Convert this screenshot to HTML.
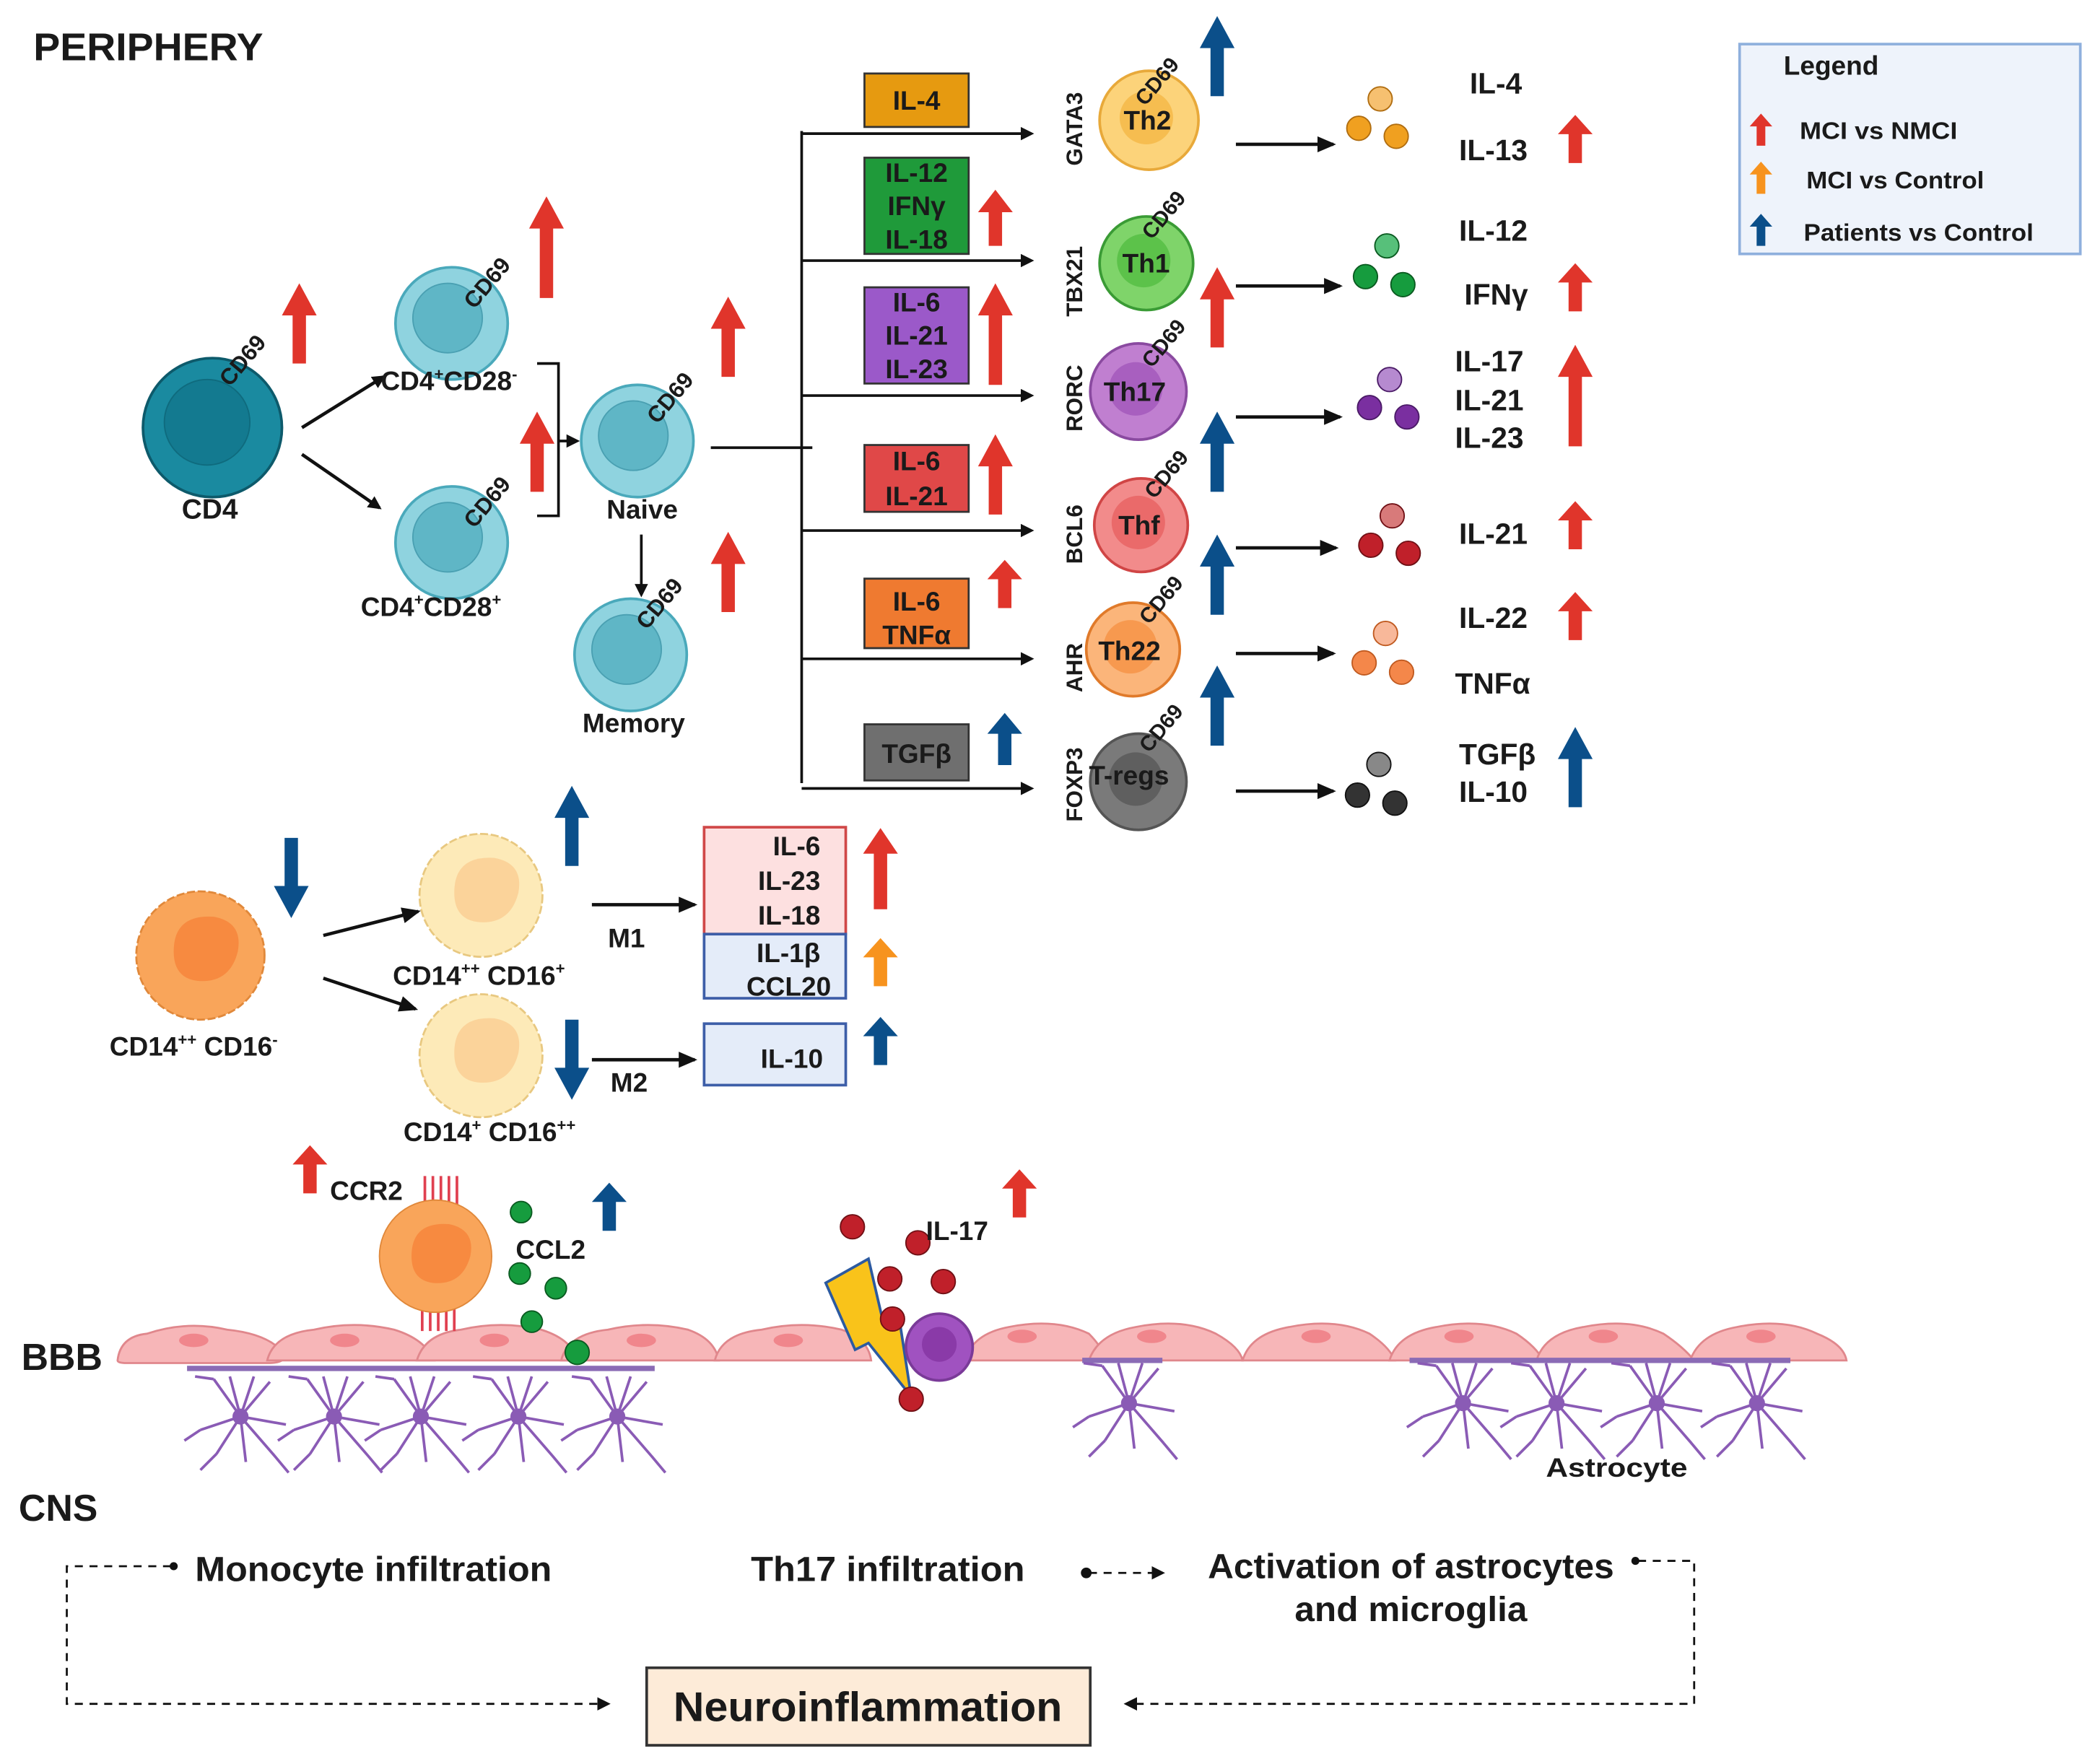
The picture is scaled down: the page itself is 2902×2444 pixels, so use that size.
<!DOCTYPE html>
<html><head><meta charset="utf-8"><style>
html,body{margin:0;padding:0;background:#fff}
svg{display:block}
text{font-family:"Liberation Sans",sans-serif;font-weight:bold;fill:#1a1a1a}
</style></head><body>
<svg width="2902" height="2444" viewBox="0 0 1568 1320" preserveAspectRatio="none" xmlns="http://www.w3.org/2000/svg">
<defs>
<path id="up" d="M0,-30 L13,-6 L5,-6 L5,30 L-5,30 L-5,-6 L-13,-6 Z"/>
<path id="upT" d="M0,-38 L13,-14 L5,-14 L5,38 L-5,38 L-5,-14 L-13,-14 Z"/>
<path id="dn" d="M0,30 L13,6 L5,6 L5,-30 L-5,-30 L-5,6 L-13,6 Z"/>
<marker id="ah" markerWidth="10" markerHeight="10" refX="8" refY="5" orient="auto" markerUnits="userSpaceOnUse"><path d="M0,0 L10,5 L0,10 Z" fill="#111"/></marker>
<marker id="ah2" markerWidth="14" markerHeight="12" refX="12" refY="6" orient="auto" markerUnits="userSpaceOnUse"><path d="M0,0 L14,6 L0,12 Z" fill="#111"/></marker>
<g id="cellT"><circle r="42" fill="#8fd3df" stroke="#4aa9bb" stroke-width="2"/><circle cx="-3" cy="-4" r="26" fill="#5fb6c6" stroke="#4aa0b2"/></g>
<g id="astro" stroke="#8a5bb5" stroke-width="2" fill="none"><path d="M0,0 L-20,-28 M0,0 L-8,-30 M0,0 L10,-30 M0,0 L22,-26 M0,0 L-30,10 M-30,10 L-42,18 M0,0 L-18,28 M-18,28 L-30,40 M0,0 L4,34 M0,0 L26,30 M26,30 L36,42 M0,0 L34,6 M-20,-28 L-34,-30"/><circle r="5" fill="#8a5bb5"/></g>
</defs>

<text x="25" y="45" font-size="29" textLength="172" lengthAdjust="spacingAndGlyphs">PERIPHERY</text>

<!-- legend -->
<rect x="1302" y="33" width="255" height="157" fill="#eef3fb" stroke="#8fb0dd" stroke-width="2"/>
<text x="1335" y="56" font-size="20">Legend</text>
<use href="#up" transform="translate(1318,97) scale(0.65,0.4)" fill="#e0352b"/>
<text x="1347" y="104" font-size="18" textLength="118" lengthAdjust="spacingAndGlyphs">MCI vs NMCI</text>
<use href="#up" transform="translate(1318,133) scale(0.65,0.4)" fill="#f7931e"/>
<text x="1352" y="141" font-size="18" textLength="133" lengthAdjust="spacingAndGlyphs">MCI vs Control</text>
<use href="#up" transform="translate(1318,172) scale(0.65,0.4)" fill="#0b4f8a"/>
<text x="1350" y="180" font-size="18" textLength="172" lengthAdjust="spacingAndGlyphs">Patients vs Control</text>

<!-- CD4 -->
<circle cx="159" cy="320" r="52" fill="#1a8aa0" stroke="#0d5a6b" stroke-width="2"/>
<circle cx="155" cy="316" r="32" fill="#137a90" stroke="#0f6b7e"/>
<text x="136" y="388" font-size="21">CD4</text>
<text font-size="17" transform="translate(172,290) rotate(-50)">CD69</text>
<use href="#up" transform="translate(224,242)" fill="#e0352b"/>
<line x1="226" y1="320" x2="287" y2="282" stroke="#111" stroke-width="2.5" marker-end="url(#ah)"/>
<line x1="226" y1="340" x2="284" y2="380" stroke="#111" stroke-width="2.5" marker-end="url(#ah)"/>

<use href="#cellT" transform="translate(338,242)"/>
<text font-size="17" transform="translate(355,232) rotate(-50)">CD69</text>
<text x="285" y="292" font-size="20">CD4<tspan font-size="12" dy="-8">+</tspan><tspan dy="8">CD28</tspan><tspan font-size="12" dy="-8">-</tspan></text>
<use href="#cellT" transform="translate(338,406)"/>
<text font-size="17" transform="translate(355,396) rotate(-50)">CD69</text>
<text x="270" y="461" font-size="20">CD4<tspan font-size="12" dy="-8">+</tspan><tspan dy="8">CD28</tspan><tspan font-size="12" dy="-8">+</tspan></text>
<use href="#upT" transform="translate(409,185)" fill="#e0352b"/>
<use href="#up" transform="translate(402,338)" fill="#e0352b"/>
<path d="M402,272 L418,272 L418,386 L402,386" fill="none" stroke="#111" stroke-width="2"/>
<line x1="418" y1="330" x2="432" y2="330" stroke="#111" stroke-width="2" marker-end="url(#ah)"/>

<use href="#cellT" transform="translate(477,330)"/>
<text font-size="17" transform="translate(492,318) rotate(-50)">CD69</text>
<text x="454" y="388" font-size="20">Naive</text>
<line x1="480" y1="400" x2="480" y2="445" stroke="#111" stroke-width="2" marker-end="url(#ah)"/>
<use href="#cellT" transform="translate(472,490)"/>
<text font-size="17" transform="translate(484,472) rotate(-50)">CD69</text>
<text x="436" y="548" font-size="20">Memory</text>
<use href="#up" transform="translate(545,252)" fill="#e0352b"/>
<use href="#up" transform="translate(545,428)" fill="#e0352b"/>

<line x1="532" y1="335" x2="608" y2="335" stroke="#111" stroke-width="2"/>
<line x1="600" y1="98" x2="600" y2="586" stroke="#111" stroke-width="2"/>
<g stroke="#111" stroke-width="2" marker-end="url(#ah)">
<line x1="600" y1="100" x2="772" y2="100"/><line x1="600" y1="195" x2="772" y2="195"/>
<line x1="600" y1="296" x2="772" y2="296"/><line x1="600" y1="397" x2="772" y2="397"/>
<line x1="600" y1="493" x2="772" y2="493"/><line x1="600" y1="590" x2="772" y2="590"/>
</g>

<!-- cytokine boxes -->
<g stroke="#333" stroke-width="1.5">
<rect x="647" y="55" width="78" height="40" fill="#e69a10"/>
<rect x="647" y="118" width="78" height="72" fill="#1f9a3a"/>
<rect x="647" y="215" width="78" height="72" fill="#9b59c9"/>
<rect x="647" y="333" width="78" height="50" fill="#e04848"/>
<rect x="647" y="433" width="78" height="52" fill="#ef7a30"/>
<rect x="647" y="542" width="78" height="42" fill="#6f6f6f"/>
</g>
<g font-size="20" text-anchor="middle">
<text x="686" y="82">IL-4</text>
<text x="686" y="136">IL-12</text><text x="686" y="161">IFNγ</text><text x="686" y="186">IL-18</text>
<text x="686" y="233">IL-6</text><text x="686" y="258">IL-21</text><text x="686" y="283">IL-23</text>
<text x="686" y="352">IL-6</text><text x="686" y="378">IL-21</text>
<text x="686" y="457">IL-6</text><text x="686" y="482">TNFα</text>
<text x="686" y="571">TGFβ</text>
</g>
<use href="#up" transform="translate(745,163) scale(1,0.7)" fill="#e0352b"/>
<use href="#upT" transform="translate(745,250)" fill="#e0352b"/>
<use href="#up" transform="translate(745,355)" fill="#e0352b"/>
<use href="#up" transform="translate(752,437) scale(1,0.6)" fill="#e0352b"/>
<use href="#up" transform="translate(752,553) scale(1,0.65)" fill="#0b4f8a"/>

<g font-size="17">
<text transform="translate(810,124) rotate(-90)">GATA3</text>
<text transform="translate(810,237) rotate(-90)">TBX21</text>
<text transform="translate(810,323) rotate(-90)">RORC</text>
<text transform="translate(810,422) rotate(-90)">BCL6</text>
<text transform="translate(810,518) rotate(-90)">AHR</text>
<text transform="translate(810,615) rotate(-90)">FOXP3</text>
</g>

<!-- T helper cells -->
<g stroke-width="2">
<circle cx="860" cy="90" r="37" fill="#fcd37a" stroke="#e8a93a"/><circle cx="858" cy="88" r="20" fill="#f6bd50"/>
<circle cx="858" cy="197" r="35" fill="#7fd46a" stroke="#3a9b35"/><circle cx="856" cy="195" r="20" fill="#5cc24a"/>
<circle cx="852" cy="293" r="36" fill="#c07fd0" stroke="#8a4aa0"/><circle cx="850" cy="291" r="20" fill="#a85fbf"/>
<circle cx="854" cy="393" r="35" fill="#f28b8b" stroke="#d04545"/><circle cx="852" cy="391" r="20" fill="#ea6a6a"/>
<circle cx="848" cy="486" r="35" fill="#fbb57a" stroke="#e07a2a"/><circle cx="846" cy="484" r="20" fill="#f7994f"/>
<circle cx="852" cy="585" r="36" fill="#7a7a7a" stroke="#555"/><circle cx="850" cy="583" r="20" fill="#5f5f5f"/>
</g>
<g font-size="20">
<text x="841" y="97">Th2</text><text x="840" y="204">Th1</text><text x="826" y="300">Th17</text>
<text x="837" y="400">Thf</text><text x="822" y="494">Th22</text><text x="815" y="587">T-regs</text>
</g>
<g font-size="16">
<text transform="translate(857,80) rotate(-50)">CD69</text>
<text transform="translate(862,180) rotate(-50)">CD69</text>
<text transform="translate(862,276) rotate(-50)">CD69</text>
<text transform="translate(864,374) rotate(-50)">CD69</text>
<text transform="translate(860,468) rotate(-50)">CD69</text>
<text transform="translate(860,564) rotate(-50)">CD69</text>
</g>
<use href="#up" transform="translate(911,42)" fill="#0b4f8a"/>
<use href="#up" transform="translate(911,230)" fill="#e0352b"/>
<use href="#up" transform="translate(911,338)" fill="#0b4f8a"/>
<use href="#up" transform="translate(911,430)" fill="#0b4f8a"/>
<use href="#up" transform="translate(911,528)" fill="#0b4f8a"/>
<g stroke="#111" stroke-width="2.5" marker-end="url(#ah2)">
<line x1="925" y1="108" x2="998" y2="108"/><line x1="925" y1="214" x2="1003" y2="214"/>
<line x1="925" y1="312" x2="1003" y2="312"/><line x1="925" y1="410" x2="1000" y2="410"/>
<line x1="925" y1="489" x2="998" y2="489"/><line x1="925" y1="592" x2="998" y2="592"/>
</g>
<g stroke-width="1">
<g fill="#f0a020" stroke="#b06d10"><circle cx="1033" cy="74" r="9" fill="#f6c070"/><circle cx="1017" cy="96" r="9"/><circle cx="1045" cy="102" r="9"/></g>
<g fill="#169c3e" stroke="#0a5a20"><circle cx="1038" cy="184" r="9" fill="#57c07a"/><circle cx="1022" cy="207" r="9"/><circle cx="1050" cy="213" r="9"/></g>
<g fill="#7a2fa0" stroke="#4a1a66"><circle cx="1040" cy="284" r="9" fill="#b68ad0"/><circle cx="1025" cy="305" r="9"/><circle cx="1053" cy="312" r="9"/></g>
<g fill="#c0202a" stroke="#701015"><circle cx="1042" cy="386" r="9" fill="#d87a7a"/><circle cx="1026" cy="408" r="9"/><circle cx="1054" cy="414" r="9"/></g>
<g fill="#f4874a" stroke="#c05a20"><circle cx="1037" cy="474" r="9" fill="#f8b89a"/><circle cx="1021" cy="496" r="9"/><circle cx="1049" cy="503" r="9"/></g>
<g fill="#333" stroke="#111"><circle cx="1032" cy="572" r="9" fill="#888"/><circle cx="1016" cy="595" r="9"/><circle cx="1044" cy="601" r="9"/></g>
</g>
<g font-size="22">
<text x="1100" y="70">IL-4</text><text x="1092" y="120">IL-13</text>
<text x="1092" y="180">IL-12</text><text x="1096" y="228">IFNγ</text>
<text x="1089" y="278">IL-17</text><text x="1089" y="307">IL-21</text><text x="1089" y="335">IL-23</text>
<text x="1092" y="407">IL-21</text>
<text x="1092" y="470">IL-22</text><text x="1089" y="519">TNFα</text>
<text x="1092" y="572">TGFβ</text><text x="1092" y="600">IL-10</text>
</g>
<use href="#up" transform="translate(1179,104) scale(1,0.6)" fill="#e0352b"/>
<use href="#up" transform="translate(1179,215) scale(1,0.6)" fill="#e0352b"/>
<use href="#upT" transform="translate(1179,296)" fill="#e0352b"/>
<use href="#up" transform="translate(1179,393) scale(1,0.6)" fill="#e0352b"/>
<use href="#up" transform="translate(1179,461) scale(1,0.6)" fill="#e0352b"/>
<use href="#up" transform="translate(1179,574)" fill="#0b4f8a"/>

<!-- monocytes -->
<g stroke-width="1.5">
<circle cx="150" cy="715" r="48" fill="#f9a55a" stroke="#e0883a" stroke-dasharray="6 2"/>
<path d="M130,712 q0,-28 30,-26 q22,4 18,26 q-6,24 -30,22 q-18,-2 -18,-22z" fill="#f78a40"/>
<circle cx="360" cy="670" r="46" fill="#fdeab8" stroke="#e8c880" stroke-dasharray="6 2"/>
<path d="M340,668 q0,-28 30,-26 q22,4 18,26 q-6,24 -30,22 q-18,-2 -18,-22z" fill="#fbd39a"/>
<circle cx="360" cy="790" r="46" fill="#fdeab8" stroke="#e8c880" stroke-dasharray="6 2"/>
<path d="M340,788 q0,-28 30,-26 q22,4 18,26 q-6,24 -30,22 q-18,-2 -18,-22z" fill="#fbd39a"/>
</g>
<text x="82" y="790" font-size="20">CD14<tspan font-size="12" dy="-8">++</tspan><tspan dy="8"> CD16</tspan><tspan font-size="12" dy="-8">-</tspan></text>
<text x="294" y="737" font-size="20">CD14<tspan font-size="12" dy="-8">++</tspan><tspan dy="8"> CD16</tspan><tspan font-size="12" dy="-8">+</tspan></text>
<text x="302" y="854" font-size="20">CD14<tspan font-size="12" dy="-8">+</tspan><tspan dy="8"> CD16</tspan><tspan font-size="12" dy="-8">++</tspan></text>
<use href="#dn" transform="translate(218,657)" fill="#0b4f8a"/>
<use href="#up" transform="translate(428,618)" fill="#0b4f8a"/>
<use href="#dn" transform="translate(428,793)" fill="#0b4f8a"/>
<g stroke="#111" stroke-width="2.5" marker-end="url(#ah2)">
<line x1="242" y1="700" x2="313" y2="682"/><line x1="242" y1="732" x2="311" y2="755"/>
<line x1="443" y1="677" x2="520" y2="677"/><line x1="443" y1="793" x2="520" y2="793"/>
</g>
<text x="455" y="709" font-size="20">M1</text><text x="457" y="817" font-size="20">M2</text>
<rect x="527" y="619" width="106" height="80" fill="#fde0e0" stroke="#d04848" stroke-width="2"/>
<rect x="527" y="699" width="106" height="48" fill="#e4ecf9" stroke="#3d5ea8" stroke-width="2"/>
<rect x="527" y="766" width="106" height="46" fill="#e4ecf9" stroke="#3d5ea8" stroke-width="2"/>
<g font-size="20" text-anchor="end">
<text x="614" y="640">IL-6</text><text x="614" y="666">IL-23</text><text x="614" y="692">IL-18</text>
<text x="614" y="720">IL-1β</text><text x="622" y="745">CCL20</text>
<text x="616" y="799">IL-10</text></g>
<use href="#upT" transform="translate(659,650) scale(1,0.8)" fill="#e0352b"/>
<use href="#up" transform="translate(659,720) scale(1,0.6)" fill="#f7931e"/>
<use href="#up" transform="translate(659,779) scale(1,0.6)" fill="#0b4f8a"/>

<!-- BBB -->
<g fill="#f7b6b8" stroke="#e0878c" stroke-width="1.5">
<path d="M88,1018 Q90,1000 110,998 Q140,988 170,995 Q200,998 212,1012 Q216,1020 200,1020 L95,1020 Q88,1020 88,1018Z"/>
<path d="M200,1018 Q205,998 235,995 Q265,988 295,995 Q318,1002 325,1018 Z"/>
<path d="M312,1018 Q318,998 345,995 Q375,988 405,995 Q428,1002 432,1018 Z"/>
<path d="M420,1018 Q425,998 455,995 Q485,988 515,995 Q535,1002 538,1018 Z"/>
<path d="M535,1018 Q540,998 570,995 Q600,988 630,995 Q650,1002 652,1018 Z"/>
<path d="M722,1018 Q728,998 755,993 Q790,986 815,998 Q825,1008 828,1018 Z"/>
<path d="M815,1018 Q822,998 850,993 Q885,986 910,998 Q928,1008 930,1018 Z"/>
<path d="M930,1018 Q936,998 965,993 Q1000,986 1025,998 Q1040,1008 1044,1018 Z"/>
<path d="M1040,1018 Q1046,998 1075,993 Q1110,986 1135,998 Q1150,1008 1155,1018 Z"/>
<path d="M1150,1018 Q1156,998 1185,993 Q1220,986 1245,998 Q1260,1008 1268,1018 Z"/>
<path d="M1265,1018 Q1272,998 1300,993 Q1335,986 1360,998 Q1380,1006 1382,1018 Z"/>
</g>
<g fill="#f0868c">
<ellipse cx="145" cy="1003" rx="11" ry="5"/><ellipse cx="258" cy="1003" rx="11" ry="5"/><ellipse cx="370" cy="1003" rx="11" ry="5"/>
<ellipse cx="480" cy="1003" rx="11" ry="5"/><ellipse cx="590" cy="1003" rx="11" ry="5"/><ellipse cx="765" cy="1000" rx="11" ry="5"/>
<ellipse cx="862" cy="1000" rx="11" ry="5"/><ellipse cx="985" cy="1000" rx="11" ry="5"/><ellipse cx="1092" cy="1000" rx="11" ry="5"/>
<ellipse cx="1200" cy="1000" rx="11" ry="5"/><ellipse cx="1318" cy="1000" rx="11" ry="5"/>
</g>
<g stroke="#8a6bb5" stroke-width="4">
<line x1="140" y1="1024" x2="490" y2="1024"/><line x1="810" y1="1018" x2="870" y2="1018"/>
<line x1="1055" y1="1018" x2="1340" y2="1018"/>
</g>
<use href="#astro" transform="translate(180,1060)"/><use href="#astro" transform="translate(250,1060)"/>
<use href="#astro" transform="translate(315,1060)"/><use href="#astro" transform="translate(388,1060)"/>
<use href="#astro" transform="translate(462,1060)"/><use href="#astro" transform="translate(845,1050)"/>
<use href="#astro" transform="translate(1095,1050)"/><use href="#astro" transform="translate(1165,1050)"/>
<use href="#astro" transform="translate(1240,1050)"/><use href="#astro" transform="translate(1315,1050)"/>
<text x="16" y="1025" font-size="28">BBB</text>
<text x="14" y="1138" font-size="28">CNS</text>
<text x="1157" y="1105" font-size="20" textLength="106" lengthAdjust="spacingAndGlyphs">Astrocyte</text>

<!-- infiltrating monocyte -->
<g stroke="#e04050" stroke-width="2" fill="none">
<path d="M318,880 v24 M324,880 v24 M330,880 v24 M336,880 v24 M342,880 v24"/>
<path d="M316,972 v24 M322,972 v24 M328,972 v24 M334,972 v24 M340,972 v24"/>
</g>
<circle cx="326" cy="940" r="42" fill="#f9a55a" stroke="#e0883a"/>
<path d="M308,940 q0,-26 28,-24 q20,4 16,24 q-6,22 -28,20 q-16,-2 -16,-20z" fill="#f78a40"/>
<use href="#up" transform="translate(232,875) scale(1,0.6)" fill="#e0352b"/>
<text x="247" y="898" font-size="20">CCR2</text>
<g fill="#169c3e" stroke="#0a5a20"><circle cx="390" cy="907" r="8"/><circle cx="389" cy="953" r="8"/><circle cx="416" cy="964" r="8"/><circle cx="398" cy="989" r="8"/><circle cx="432" cy="1012" r="9"/></g>
<text x="386" y="942" font-size="20">CCL2</text>
<use href="#up" transform="translate(456,903) scale(1,0.6)" fill="#0b4f8a"/>

<path d="M618,960 L650,942 L660,985 L672,980 L682,1045 L650,1005 L640,1010 Z" fill="#f9c31a" stroke="#2c5aa0" stroke-width="2"/>
<circle cx="703" cy="1008" r="25" fill="#a052c0" stroke="#7a3a98" stroke-width="2"/>
<circle cx="703" cy="1006" r="13" fill="#8a3aa8"/>
<g fill="#c0202a" stroke="#701015"><circle cx="638" cy="918" r="9"/><circle cx="687" cy="930" r="9"/><circle cx="666" cy="957" r="9"/><circle cx="706" cy="959" r="9"/><circle cx="668" cy="987" r="9"/><circle cx="682" cy="1047" r="9"/></g>
<text x="693" y="928" font-size="20">IL-17</text>
<use href="#up" transform="translate(763,893) scale(1,0.6)" fill="#e0352b"/>

<!-- bottom -->
<g font-size="26" lengthAdjust="spacingAndGlyphs">
<text x="146" y="1183" textLength="267" lengthAdjust="spacingAndGlyphs">Monocyte infiltration</text>
<text x="562" y="1183" textLength="205" lengthAdjust="spacingAndGlyphs">Th17 infiltration</text>
<text x="904" y="1181" textLength="304" lengthAdjust="spacingAndGlyphs">Activation of astrocytes</text>
<text x="969" y="1213" textLength="174" lengthAdjust="spacingAndGlyphs">and microglia</text>
</g>
<rect x="484" y="1248" width="332" height="58" fill="#fdebd8" stroke="#333" stroke-width="2"/>
<text x="504" y="1288" font-size="31" textLength="291" lengthAdjust="spacingAndGlyphs">Neuroinflammation</text>
<g stroke="#111" stroke-width="1.5" stroke-dasharray="6 5" fill="none">
<path d="M128,1172 L50,1172 L50,1275 L455,1275" marker-end="url(#ah)"/>
<path d="M815,1177 L870,1177" marker-end="url(#ah)"/>
<path d="M1226,1168 L1268,1168 L1268,1275 L843,1275" marker-end="url(#ah)"/>
</g>
<circle cx="130" cy="1172" r="3" fill="#111"/><circle cx="813" cy="1177" r="4" fill="#111"/><circle cx="1224" cy="1168" r="3" fill="#111"/>
</svg>
</body></html>
